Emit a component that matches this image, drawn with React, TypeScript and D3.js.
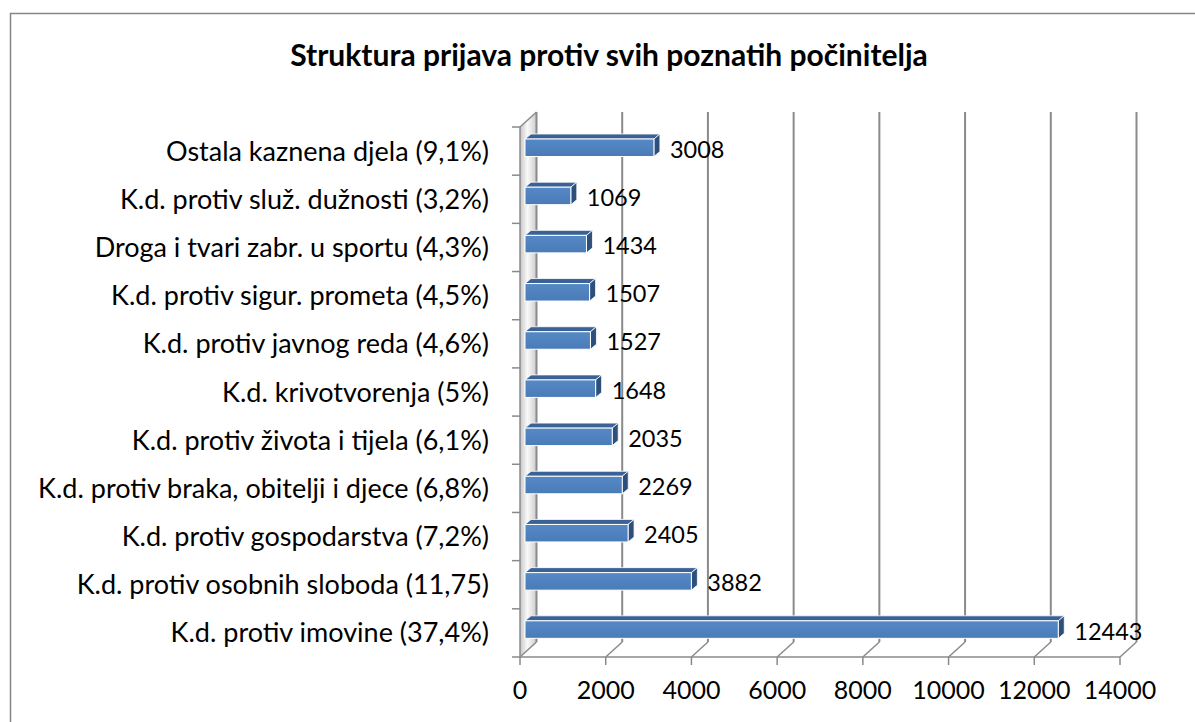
import React from "react";
import * as d3 from "d3";

const categories = [
  "Ostala kaznena djela (9,1%)",
  "K.d. protiv služ. dužnosti (3,2%)",
  "Droga i tvari zabr. u sportu (4,3%)",
  "K.d. protiv sigur. prometa (4,5%)",
  "K.d. protiv javnog reda (4,6%)",
  "K.d. krivotvorenja (5%)",
  "K.d. protiv života i tijela (6,1%)",
  "K.d. protiv braka, obitelji i djece (6,8%)",
  "K.d. protiv gospodarstva (7,2%)",
  "K.d. protiv osobnih sloboda (11,75)",
  "K.d. protiv imovine (37,4%)",
];
const values = [3008, 1069, 1434, 1507, 1527, 1648, 2035, 2269, 2405, 3882, 12443];
const ticks = [0, 2000, 4000, 6000, 8000, 10000, 12000, 14000];
const title = "Struktura prijava protiv svih poznatih počinitelja";

const FONT = "Lato, 'Open Sans', sans-serif";

export default function App() {
  const frontX = d3.scaleLinear().domain([0, 14000]).range([520, 1120]);
  const depthDX = 16.5;
  const depthDY = -15;
  const backX = (v: number) => frontX(v) + depthDX;
  const floorY = 657;
  const topY = 127;
  const band = d3.scaleBand<string>().domain(categories).range([topY, floorY]).padding(0);
  const barX = d3.scaleLinear().domain([0, 14000]).range([525, 1125]);
  const bdx = 6;
  const bdy = 5;

  return (
    <svg width={1195} height={722} style={{ position: "absolute", left: 0, top: 0 }} fontFamily={FONT}>
      <defs>
        <linearGradient id="wallG" x1="0" x2="1" y1="0" y2="0">
          <stop offset="0" stopColor="#9a9a9a" />
          <stop offset="0.45" stopColor="#f4f4f4" />
          <stop offset="0.7" stopColor="#d0d0d0" />
          <stop offset="1" stopColor="#a0a0a0" />
        </linearGradient>
        <linearGradient id="barG" x1="0" x2="0" y1="0" y2="1">
          <stop offset="0" stopColor="#5589c6" />
          <stop offset="1" stopColor="#4a7bb7" />
        </linearGradient>
      </defs>
      <rect x={0} y={0} width={1195} height={722} fill="#fff" />
      <rect x={10.5} y={13.5} width={1200} height={720} fill="#fff" stroke="#868686" strokeWidth={1.5} />
      <text x={609} y={66} textAnchor="middle" fontWeight="bold" fontSize={30} fill="#000">
        {title}
      </text>

      {/* left wall */}
      <polygon
        points={`${frontX(0)},${topY} ${backX(0)},${topY + depthDY} ${backX(0)},${floorY + depthDY} ${frontX(0)},${floorY}`}
        fill="url(#wallG)"
        opacity={0.55}
      />
      {/* back wall gridlines */}
      {ticks.map((t) => (
        <g key={t}>
          <line x1={backX(t)} x2={backX(t)} y1={topY + depthDY} y2={floorY + depthDY} stroke="#8a8a8a" strokeWidth={2} />
          <line x1={backX(t)} x2={frontX(t)} y1={floorY + depthDY} y2={floorY} stroke="#8a8a8a" strokeWidth={1.5} />
          <line x1={frontX(t)} x2={frontX(t)} y1={floorY} y2={floorY + 8} stroke="#8a8a8a" strokeWidth={1.5} />
          <text x={frontX(t)} y={699} textAnchor="middle" fontSize={25} fill="#000">
            {t}
          </text>
        </g>
      ))}
      {/* left wall edges */}
      <line x1={frontX(0)} x2={frontX(0)} y1={topY} y2={floorY} stroke="#8a8a8a" strokeWidth={1.5} />
      <line x1={frontX(0)} x2={backX(0)} y1={topY} y2={topY + depthDY} stroke="#8a8a8a" strokeWidth={1.5} />
      <line x1={frontX(0)} x2={frontX(14000)} y1={floorY} y2={floorY} stroke="#8a8a8a" strokeWidth={1.5} />
      {/* category ticks */}
      {d3.range(categories.length + 1).map((i) => {
        const y = topY + i * band.bandwidth();
        return <line key={i} x1={512} x2={520} y1={y} y2={y} stroke="#8a8a8a" strokeWidth={1.5} />;
      })}
      {categories.map((c, i) => {
        const y0 = (band(c) as number) + 12;
        const h = 17.5;
        const x0 = barX(0);
        const x1 = barX(values[i]);
        return (
          <g key={c}>
            <text x={489} y={(band(c) as number) + band.bandwidth() / 2 - 1} textAnchor="end" dominantBaseline="central" fontSize={27} fill="#000">
              {c}
            </text>
            <polygon
              points={`${x0},${y0} ${x0 + bdx},${y0 - bdy} ${x1 + bdx},${y0 - bdy} ${x1},${y0}`}
              fill="#3a6296"
              stroke="#fff"
              strokeWidth={0.8}
            />
            <polygon
              points={`${x1},${y0} ${x1 + bdx},${y0 - bdy} ${x1 + bdx},${y0 + h - bdy} ${x1},${y0 + h}`}
              fill="#2c4f7c"
              stroke="#fff"
              strokeWidth={0.8}
            />
            <rect x={x0} y={y0} width={x1 - x0} height={h} fill="url(#barG)" stroke="#fff" strokeWidth={1} />
            <text x={x1 + bdx + 10} y={y0 + h / 2 + 1} dominantBaseline="central" fontSize={23.5} fill="#000">
              {values[i]}
            </text>
          </g>
        );
      })}
    </svg>
  );
}
